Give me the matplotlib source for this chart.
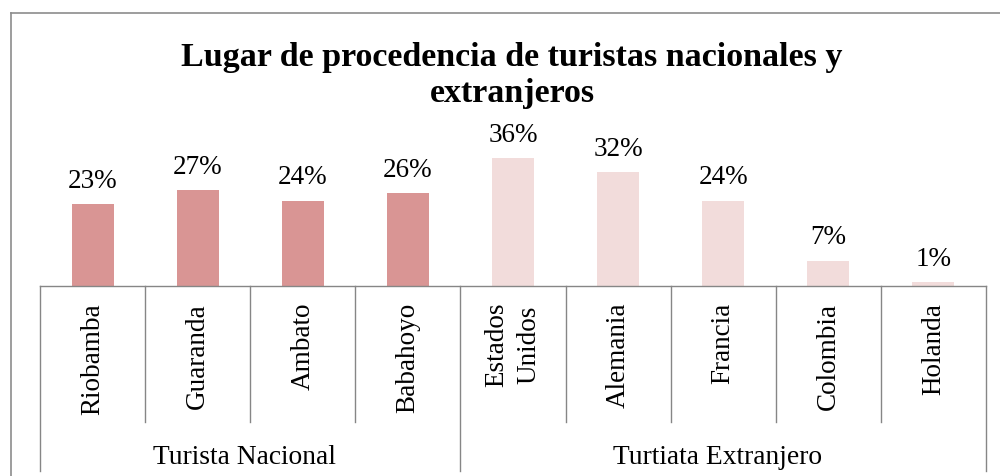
import matplotlib
matplotlib.use("Agg")
import matplotlib.pyplot as plt
import matplotlib.transforms as mtransforms
from matplotlib.lines import Line2D
import numpy as np

# Data
categories = ["Riobamba", "Guaranda", "Ambato", "Babahoyo",
              "Estados\nUnidos", "Alemania", "Francia", "Colombia", "Holanda"]
values = [23, 27, 24, 26, 36, 32, 24, 7, 1]
groups = ["Turista Nacional", "Turtiata Extranjero"]
group_sizes = [4, 5]
group_colors = ["#D99594", "#F2DCDB"]
title = "Lugar de procedencia de turistas nacionales y\nextranjeros"

W, H = 1000, 477
DPI = 100
fig = plt.figure(figsize=(W / DPI, H / DPI), dpi=DPI)
plt.rcParams["font.family"] = ["Liberation Serif", "DejaVu Serif"]

# Plot area in pixels
x0, x1 = 40, 986
y_base, y_top = 286.5, 144.9
ax = fig.add_axes([x0 / W, (H - y_base) / H, (x1 - x0) / W, (y_base - y_top) / H])

def px_to_axes_y(py):
    return (y_base - py) / (y_base - y_top)

colors = []
for c, n in zip(group_colors, group_sizes):
    colors += [c] * n

x = np.arange(len(values))
ax.bar(x, values, width=0.4, color=colors, zorder=2)
ax.set_xlim(-0.5, len(values) - 0.5)
ax.set_ylim(0, 40)
for s in ["top", "left", "right"]:
    ax.spines[s].set_visible(False)
ax.spines["bottom"].set_color("#868686")
ax.spines["bottom"].set_linewidth(1.0)
ax.set_xticks([])
ax.set_yticks([])

# Value labels
for xi, v in zip(x, values):
    ax.annotate(f"{v}%", xy=(xi, v), xytext=(0, 12.5), textcoords="offset points",
                ha="center", va="baseline", fontsize=19.5, annotation_clip=False)

trans = mtransforms.blended_transform_factory(ax.transData, ax.transAxes)
line_kw = dict(color="#868686", lw=1.0, transform=trans, clip_on=False)

# Category dividers and labels
bounds = np.arange(len(values) + 1) - 0.5
group_edges = np.concatenate([[0], np.cumsum(group_sizes)])
for i, b in enumerate(bounds):
    bottom = 472 if i in group_edges else 422.5
    ax.plot([b, b], [0, px_to_axes_y(bottom)], **line_kw)

for xi, lab in zip(x, categories):
    ax.text(xi, px_to_axes_y(303), lab, rotation=90, ha="center", va="top",
            fontsize=19.5, multialignment="center", linespacing=1.4,
            transform=trans)

# Group labels
for g, (a, b) in zip(groups, zip(group_edges[:-1], group_edges[1:])):
    ax.text((a + b - 1) / 2 - 0.05, px_to_axes_y(464), g, ha="center", va="baseline",
            fontsize=19.8, transform=trans)

# Title
fig.text(0.512, (H - 102) / H, title, ha="center", va="baseline",
         fontsize=24.5, fontweight="bold", multialignment="center")

# Chart frame
frame_kw = dict(color="#8c8c8c", lw=1.2, transform=fig.transFigure)
fig.add_artist(Line2D([10.5 / W, 10.5 / W], [0, (H - 14) / H], **frame_kw))
fig.add_artist(Line2D([10.5 / W, 1.0], [(H - 14) / H, (H - 14) / H], **frame_kw))

fig.savefig("out.png", dpi=DPI)
